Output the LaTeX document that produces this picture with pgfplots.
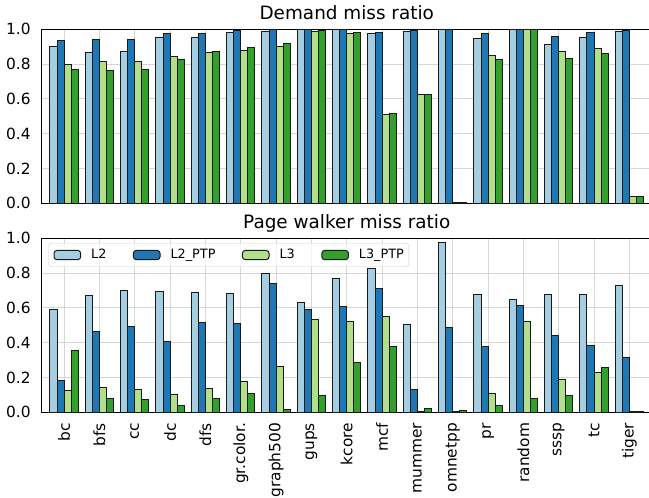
\documentclass[border=0pt]{standalone}
\usepackage{fontspec}
\setmainfont{DejaVu Sans}
\usepackage{pgfplots}
\usepackage{pgfplotstable}
\pgfplotsset{compat=1.18}
\definecolor{cA}{HTML}{A6CEE3}
\definecolor{cB}{HTML}{1F78B4}
\definecolor{cC}{HTML}{B2DF8A}
\definecolor{cD}{HTML}{33A02C}

\pgfplotstableread{
x L2 L2PTP L3 L3PTP
0 0.900 0.934 0.797 0.770
1 0.868 0.940 0.814 0.766
2 0.870 0.943 0.814 0.768
3 0.950 0.975 0.841 0.824
4 0.952 0.975 0.868 0.870
5 0.984 0.994 0.877 0.898
6 0.986 0.997 0.904 0.916
7 0.999 0.999 0.986 0.994
8 0.999 0.999 0.973 0.983
9 0.973 0.980 0.509 0.515
10 0.986 0.992 0.628 0.624
11 0.999 0.999 0.004 0.004
12 0.948 0.975 0.847 0.828
13 1.000 1.000 1.000 1.000
14 0.910 0.958 0.874 0.833
15 0.952 0.980 0.887 0.862
16 0.989 0.992 0.040 0.040
}\demand

\pgfplotstableread{
x L2 L2PTP L3 L3PTP
0 0.590 0.184 0.123 0.353
1 0.673 0.466 0.142 0.080
2 0.698 0.493 0.132 0.073
3 0.696 0.406 0.105 0.038
4 0.690 0.516 0.134 0.080
5 0.685 0.512 0.176 0.109
6 0.797 0.740 0.261 0.017
7 0.629 0.593 0.531 0.094
8 0.767 0.610 0.521 0.289
9 0.828 0.711 0.548 0.381
10 0.506 0.132 0.005 0.021
11 0.974 0.487 0.004 0.010
12 0.675 0.378 0.107 0.038
13 0.650 0.612 0.521 0.078
14 0.675 0.441 0.188 0.094
15 0.675 0.383 0.230 0.255
16 0.728 0.316 0.003 0.003
}\walker

\pgfplotsset{
  mybase/.style={
    scale only axis, width=610.9pt, height=174pt,
    xmin=-0.646, xmax=16.646, ymin=0, ymax=1,
    xtick={0,...,16}, ytick={0,0.2,0.4,0.6,0.8,1},
    grid=major, major grid style={draw=black!16, line width=0.9pt},
    major tick length=0pt,
    axis line style={line width=0.9pt},
    /pgf/number format/assume math mode=true,
    yticklabel style={font=\fontsize{15.4}{16}\selectfont, /pgf/number format/fixed, /pgf/number format/fixed zerofill, /pgf/number format/precision=1, inner sep=0pt},
    yticklabel shift=10.5pt,
    every axis title/.style={at={(0.5,1)}, anchor=base, inner sep=0pt, yshift=9.3pt, font=\fontsize{18.4}{20}\selectfont},
  },
  bars/.style={ybar, bar width=0.2, draw=black!90, line width=1pt},
}

\begin{document}
\begin{tikzpicture}
\begin{axis}[mybase, at={(41.3pt,294.7pt)}, anchor=south west,
  title={Demand miss ratio}, xticklabels={}]
\addplot[bars, bar shift=-0.3, fill=cA] table[x=x,y=L2] {\demand};
\addplot[bars, bar shift=-0.1, fill=cB] table[x=x,y=L2PTP] {\demand};
\addplot[bars, bar shift=0.1, fill=cC] table[x=x,y=L3] {\demand};
\addplot[bars, bar shift=0.3, fill=cD] table[x=x,y=L3PTP] {\demand};
\end{axis}
\begin{axis}[mybase, at={(41.3pt,85.7pt)}, anchor=south west,
  title={Page walker miss ratio},
  xticklabels={bc,bfs,cc,dc,dfs,gr.color.,graph500,gups,kcore,mcf,mummer,omnetpp,pr,random,sssp,tc,tiger},
  xticklabel style={rotate=90, anchor=east, inner sep=0pt, font=\fontsize{15.4}{16}\selectfont},
  xticklabel shift=10.5pt,
  legend columns=4,
  legend image code/.code={\draw[#1, fill opacity=1, draw opacity=1] (0pt,-4.65pt) rectangle (26.7pt,4.65pt);},
  legend style={at={(0,1)}, anchor=north west, xshift=7pt, yshift=-4.8pt,
    draw=black!20, fill=white, fill opacity=0.8, text opacity=1, rounded corners=3pt,
    font=\fontsize{12.8}{14}\selectfont, inner xsep=5pt, inner ysep=3.5pt,
    nodes={inner xsep=0pt, inner ysep=2pt, text height=9.5pt, text depth=3pt},
    /tikz/every odd column/.append style={column sep=10pt},
    /tikz/every even column/.append style={column sep=26.4pt}},
]
\addplot[bars, bar shift=-0.3, fill=cA] table[x=x,y=L2] {\walker};
\addlegendentry{L2}
\addplot[bars, bar shift=-0.1, fill=cB] table[x=x,y=L2PTP] {\walker};
\addlegendentry{L2\_PTP}
\addplot[bars, bar shift=0.1, fill=cC] table[x=x,y=L3] {\walker};
\addlegendentry{L3}
\addplot[bars, bar shift=0.3, fill=cD] table[x=x,y=L3PTP] {\walker};
\addlegendentry{L3\_PTP}
\end{axis}
\pgfresetboundingbox
\useasboundingbox (0,0) rectangle (649pt,498pt);
\end{tikzpicture}
\end{document}
